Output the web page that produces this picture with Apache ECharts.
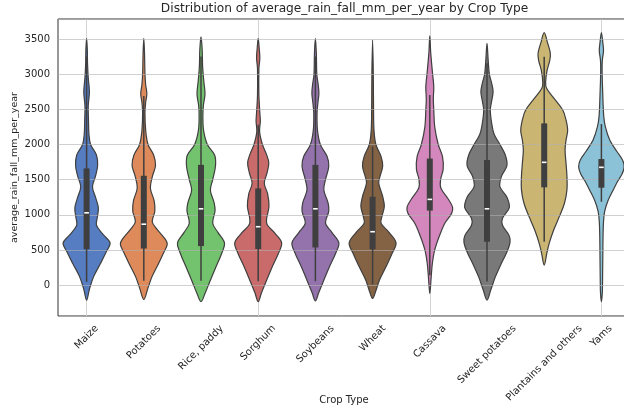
<!DOCTYPE html>
<html>
<head>
<meta charset="utf-8">
<script src="https://cdn.jsdelivr.net/npm/echarts@6/dist/echarts.min.js"></script>
<style>
  html, body { margin: 0; padding: 0; background: #fff; }
  #chart { width: 624px; height: 410px; }
</style>
</head>
<body>
<div id="chart"></div>
<script>
// categories, left to right
const crops = ["Maize", "Potatoes", "Rice, paddy", "Sorghum", "Soybeans", "Wheat",
  "Cassava", "Sweet potatoes", "Plantains and others", "Yams"];

// y tick labels
const yTicks = [0, 500, 1000, 1500, 2000, 2500, 3000, 3500];

// violin outlines: [rainfall mm, relative density], top tip -> bottom tip
const maize = [[3510,0],[3350,0.03],[3150,0.04],[2950,0.07],[2750,0.12],[2550,0.07],[2350,0.08],[2150,0.1],[2000,0.17],[1850,0.42],[1700,0.47],[1550,0.38],[1400,0.25],[1250,0.38],[1100,0.5],[950,0.45],[850,0.42],[720,0.7],[600,1.0],[480,0.85],[300,0.58],[120,0.3],[-60,0.12],[-215,0]];
const potatoes = [[3510,0],[3300,0.03],[3000,0.05],[2850,0.08],[2720,0.13],[2600,0.08],[2450,0.05],[2200,0.08],[2000,0.18],[1850,0.42],[1700,0.5],[1550,0.37],[1380,0.28],[1200,0.44],[1050,0.47],[900,0.36],[800,0.55],[650,0.92],[580,1.0],[450,0.83],[300,0.62],[120,0.35],[-50,0.17],[-205,0]];
const rice = [[3530,0],[3350,0.05],[3100,0.07],[2900,0.12],[2720,0.17],[2550,0.1],[2400,0.08],[2200,0.11],[2000,0.27],[1850,0.58],[1700,0.62],[1500,0.5],[1350,0.4],[1170,0.56],[1060,0.6],[880,0.5],[750,0.72],[600,1.0],[450,0.88],[260,0.64],[70,0.4],[-120,0.17],[-235,0]];
const sorghum = [[3510,0],[3380,0.04],[3230,0.07],[3080,0.03],[2700,0.03],[2450,0.07],[2330,0.09],[2180,0.06],[2000,0.18],[1870,0.34],[1740,0.45],[1600,0.38],[1450,0.26],[1300,0.4],[1120,0.46],[880,0.36],[740,0.71],[600,1.0],[450,0.86],[260,0.6],[70,0.36],[-110,0.14],[-235,0]];
const soybeans = [[3510,0],[3300,0.04],[3000,0.06],[2850,0.12],[2730,0.15],[2600,0.11],[2450,0.07],[2200,0.09],[2000,0.21],[1830,0.5],[1690,0.57],[1500,0.43],[1350,0.36],[1170,0.54],[1050,0.57],[880,0.43],[750,0.7],[600,1.0],[450,0.86],[260,0.6],[70,0.36],[-110,0.14],[-225,0]];
const wheat = [[3485,0],[3000,0.03],[2500,0.04],[2200,0.06],[2000,0.14],[1830,0.36],[1690,0.43],[1540,0.31],[1450,0.26],[1260,0.43],[1120,0.5],[980,0.4],[880,0.36],[750,0.7],[600,1.0],[450,0.83],[260,0.57],[70,0.29],[-80,0.14],[-190,0]];
const cassava = [[3545,0],[3300,0.04],[3000,0.12],[2820,0.17],[2650,0.15],[2490,0.17],[2250,0.21],[2000,0.36],[1830,0.54],[1650,0.57],[1500,0.46],[1380,0.47],[1220,0.79],[1110,0.97],[1020,0.93],[880,0.64],[690,0.4],[500,0.21],[310,0.11],[120,0.06],[-120,0]];
const sweetPotatoes = [[3440,0],[3200,0.05],[3000,0.1],[2870,0.2],[2750,0.26],[2620,0.2],[2490,0.14],[2300,0.2],[2150,0.3],[2000,0.55],[1850,0.78],[1700,0.85],[1550,0.62],[1400,0.55],[1250,0.85],[1100,0.95],[950,0.66],[850,0.66],[700,0.95],[600,0.98],[450,0.82],[300,0.6],[120,0.36],[-70,0.16],[-215,0]];
const plantains = [[3590,0],[3450,0.14],[3300,0.26],[3200,0.24],[3050,0.12],[2880,0.06],[2800,0.1],[2680,0.36],[2490,0.79],[2350,0.93],[2200,1.0],[2060,0.93],[1920,0.89],[1735,0.93],[1545,0.97],[1355,0.97],[1160,0.86],[970,0.64],[780,0.4],[590,0.21],[450,0.11],[285,0]];
const yams = [[3590,0],[3450,0.06],[3330,0.09],[3200,0.04],[3050,0.03],[2700,0.06],[2400,0.1],[2250,0.17],[2060,0.36],[1900,0.66],[1780,0.9],[1680,0.97],[1580,0.88],[1480,0.7],[1350,0.5],[1200,0.28],[1050,0.14],[900,0.09],[700,0.07],[400,0.06],[100,0.05],[-100,0.04],[-235,0]];
const violins = [maize, potatoes, rice, sorghum, soybeans, wheat, cassava, sweetPotatoes, plantains, yams];

// inner box stats per crop
const q1 = [510, 520, 555, 513, 535, 510, 1060, 616, 1390, 1385];
const median = [1028, 866, 1085, 830, 1085, 759, 1219, 1085, 1746, 1675];
const q3 = [1659, 1555, 1710, 1375, 1710, 1256, 1800, 1778, 2300, 1793];
const whiskerLow = [45, 60, 60, 55, 55, 10, 140, 50, 616, 1185];
const whiskerHigh = [3250, 2690, 3250, 2280, 3250, 1970, 2703, 3154, 3248, 2290];

// seaborn "muted", desaturated like the violins
const muted = ["#4878d0", "#ee854a", "#6acc64", "#d65f5f", "#956cb4",
  "#8c613c", "#dc7ec0", "#797979", "#d5bb67", "#82c6e2"];
function desaturate(hex, prop) {
  const c = [1, 3, 5].map(k => parseInt(hex.slice(k, k + 2), 16) / 255);
  const l = (Math.max(...c) + Math.min(...c)) / 2;
  return "rgb(" + c.map(v => Math.round((l + (v - l) * prop) * 255)).join(",") + ")";
}
const colors = muted.map(h => desaturate(h, 0.8));

const FONT = '"DejaVu Sans", sans-serif';
const Y_MIN = -440, Y_MAX = 3785;
const HALF = 0.41;      // widest violin half-width, as part of a band
const EDGE = "#3f3f3f";

function renderViolin(params, api) {
  const i = api.value(0);
  const band = api.size([1, 0])[0];
  const cx = api.coord([i, 0])[0];
  const pts = violins[i];
  const right = pts.map(p => [cx + p[1] * HALF * band, api.coord([i, p[0]])[1]]);
  const left = pts.slice(1, -1).reverse()
    .map(p => [cx - p[1] * HALF * band, api.coord([i, p[0]])[1]]);
  return {
    type: "polygon",
    shape: { points: right.concat(left), smooth: 0.35 },
    style: { fill: colors[i], stroke: EDGE, lineWidth: 1.2 }
  };
}

function renderBox(params, api) {
  const i = api.value(0);
  const cx = api.coord([i, 0])[0];
  const y = v => api.coord([i, v])[1];
  return {
    type: "group",
    children: [
      { type: "line", shape: { x1: cx, y1: y(whiskerHigh[i]), x2: cx, y2: y(whiskerLow[i]) },
        style: { stroke: EDGE, lineWidth: 1.5 } },
      { type: "rect", shape: { x: cx - 3, y: y(q3[i]), width: 6, height: y(q1[i]) - y(q3[i]) },
        style: { fill: EDGE } },
      { type: "line", shape: { x1: cx - 2.3, y1: y(median[i]), x2: cx + 2.3, y2: y(median[i]) },
        style: { stroke: "#fff", lineWidth: 1.6 } }
    ]
  };
}

// matplotlib-like rotated tick labels: centred on the tick, top of the rotated box under the axis
const measure = document.createElement("canvas").getContext("2d");
function renderLabel(params, api) {
  const i = api.value(0);
  const p = api.coord([i, Y_MIN]);
  measure.font = "10px " + FONT;
  const w = measure.measureText(crops[i]).width;
  const d = (w + 11) * Math.SQRT1_2;
  return {
    type: "text",
    x: p[0], y: p[1] + 7 + d / 2,
    rotation: Math.PI / 4,
    style: { text: crops[i], font: "10px " + FONT, fill: "#262626", align: "center", verticalAlign: "middle" }
  };
}

const idx = crops.map((c, i) => [i, median[i]]);
const chart = echarts.init(document.getElementById("chart"));
chart.setOption({
  animation: false,
  title: {
    text: "Distribution of average_rain_fall_mm_per_year by Crop Type",
    left: 344.5, top: 3, padding: 0, textAlign: "center",
    textStyle: { fontFamily: FONT, fontSize: 12.2, fontWeight: "normal", color: "#262626" }
  },
  // the axes run a few pixels past the right edge of the picture
  grid: {
    left: 58, width: 572, top: 19, height: 297, outerBoundsMode: "none", containLabel: false,
    show: true, borderColor: "#333", borderWidth: 1
  },
  xAxis: {
    type: "category", data: crops, boundaryGap: true, z: 0,
    axisLine: { show: false }, axisTick: { show: false }, axisLabel: { show: false },
    splitLine: { show: true, alignWithLabel: true, lineStyle: { color: "#d4d4d4", width: 1 } },
    name: "Crop Type", nameLocation: "middle", nameGap: 79, nameMoveOverlap: false,
    nameTextStyle: { fontFamily: FONT, fontSize: 10, color: "#262626" }
  },
  yAxis: {
    type: "value", min: Y_MIN, max: Y_MAX, splitNumber: 8, z: 2,
    axisLine: { show: false }, axisTick: { show: false },
    axisLabel: {
      fontFamily: FONT, fontSize: 10, color: "#262626", margin: 8,
      showMinLabel: false, showMaxLabel: false,
      formatter: v => (yTicks.includes(v) ? String(v) : "")
    },
    splitLine: { lineStyle: { color: "rgba(176,176,176,0.6)", width: 1 } },
    name: "average_rain_fall_mm_per_year", nameLocation: "middle", nameGap: 38, nameMoveOverlap: false,
    nameTextStyle: { fontFamily: FONT, fontSize: 9.5, color: "#262626" }
  },
  series: [
    { type: "custom", z: 1, clip: false, data: idx, renderItem: renderViolin },
    { type: "custom", z: 3, clip: false, data: idx, renderItem: renderBox },
    { type: "custom", z: 3, clip: false, data: idx, renderItem: renderLabel }
  ]
});
</script>
</body>
</html>
